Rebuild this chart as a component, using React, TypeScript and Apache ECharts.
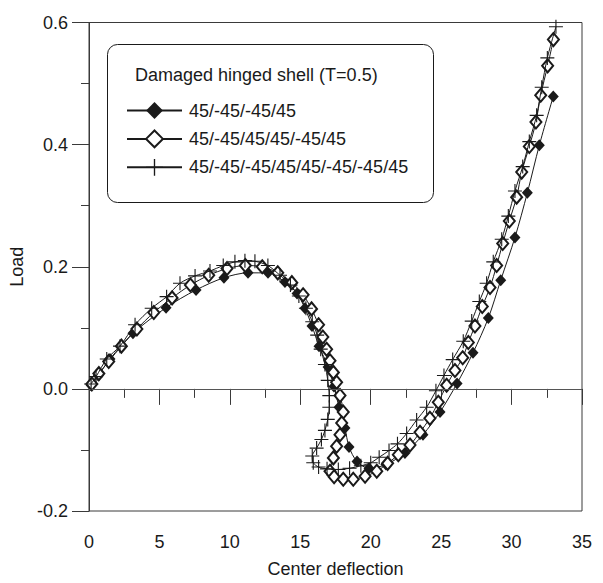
import React, { useEffect, useRef } from "react";
import * as echarts from "echarts";

const seriesNames = [
  "45/-45/-45/45",
  "45/-45/45/45/-45/45",
  "45/-45/-45/45/45/-45/-45/45",
];
const legendTitle = "Damaged hinged shell (T=0.5)";
const xAxisName = "Center deflection";
const yAxisName = "Load";

const xRange = [0, 35];
const xStep = 5;
const yRange = [-0.2, 0.6];
const yStep = 0.2;

const filledDiamond: [number, number][] = [
  [0.15, 0.006], [0.66, 0.022], [1.49, 0.049], [3.12, 0.091], [5.47, 0.133],
  [7.6, 0.162], [9.58, 0.182], [11.29, 0.19], [12.71, 0.19], [13.91, 0.175],
  [14.77, 0.156], [15.33, 0.132], [15.83, 0.103], [16.33, 0.07], [16.97, 0.036],
  [17.39, 0.004], [17.75, -0.03], [18.17, -0.064], [18.46, -0.095], [19.03, -0.119],
  [19.88, -0.13], [21.08, -0.124], [22.43, -0.105], [23.71, -0.075], [24.92, -0.038],
  [26.13, 0.009], [27.26, 0.059], [28.35, 0.116], [29.23, 0.178], [30.24, 0.248],
  [31.12, 0.321], [31.97, 0.399], [32.96, 0.479],
];

const openDiamond: [number, number][] = [
  [0.2, 0.008], [0.7, 0.025], [1.4, 0.045], [2.3, 0.07], [3.4, 0.098],
  [4.6, 0.125], [5.9, 0.149], [7.2, 0.17], [8.5, 0.186], [9.8, 0.197],
  [11.1, 0.202], [12.3, 0.2], [13.4, 0.19], [14.4, 0.174], [15.2, 0.154],
  [15.8, 0.131], [16.3, 0.105], [16.6, 0.085], [16.87, 0.065], [17.11, 0.046],
  [17.35, 0.027], [17.58, 0.011], [17.82, -0.011], [18.05, -0.038], [17.94, -0.056],
  [17.82, -0.075], [17.58, -0.094], [17.35, -0.113], [17.11, -0.135], [17.4, -0.144],
  [18.05, -0.148], [18.76, -0.148], [19.6, -0.143], [20.43, -0.135], [21.2, -0.122],
  [21.96, -0.108], [22.79, -0.092], [23.5, -0.071], [24.2, -0.048], [24.8, -0.022],
  [25.39, 0.006], [25.98, 0.03], [26.53, 0.051], [26.93, 0.076], [27.4, 0.103],
  [27.92, 0.135], [28.47, 0.166], [28.94, 0.202], [29.37, 0.238], [29.84, 0.275],
  [30.36, 0.314], [30.72, 0.355], [31.26, 0.397], [31.73, 0.437], [32.07, 0.481],
  [32.56, 0.529], [32.97, 0.572],
];

const plusMarker: [number, number][] = [
  [0.15, 0.008], [0.5, 0.02], [1.26, 0.049], [2.2, 0.07], [3.27, 0.105],
  [4.45, 0.132], [5.51, 0.151], [6.46, 0.173], [7.53, 0.185], [8.59, 0.193],
  [9.53, 0.202], [10.36, 0.208], [11.07, 0.21], [11.78, 0.209], [12.7, 0.202],
  [13.56, 0.186], [14.3, 0.17], [14.9, 0.152], [15.4, 0.132], [15.85, 0.11],
  [16.2, 0.088], [16.45, 0.065], [16.75, 0.04], [16.95, 0.014], [17.06, -0.011],
  [17.06, -0.03], [16.95, -0.05], [16.75, -0.068], [16.5, -0.083], [16.16, -0.097],
  [15.85, -0.11], [15.92, -0.121], [16.3, -0.128], [16.9, -0.131], [17.7, -0.132],
  [18.5, -0.13], [19.3, -0.126], [20.0, -0.121], [20.6, -0.112], [21.3, -0.101],
  [21.9, -0.09], [22.55, -0.073], [23.26, -0.051], [23.97, -0.03], [24.63, -0.003],
  [25.2, 0.022], [25.82, 0.048], [26.57, 0.078], [27.17, 0.111], [27.71, 0.143],
  [28.23, 0.173], [28.7, 0.208], [29.3, 0.245], [29.77, 0.283], [30.24, 0.324],
  [30.79, 0.364], [31.26, 0.405], [31.78, 0.448], [32.14, 0.494], [32.54, 0.542],
  [33.15, 0.593],
];

const FONT = "'Liberation Sans', Arial, Helvetica, sans-serif";
const INK = "#1a1a1a";
const AXIS = "#3a3a3a";
const PLUS_PATH =
  "path://M46,0L54,0L54,46L100,46L100,54L54,54L54,100L46,100L46,54L0,54L0,46L46,46Z";

export default function App() {
  const ref = useRef<HTMLDivElement>(null);

  useEffect(() => {
    if (!ref.current) return;
    const chart = echarts.init(ref.current, undefined, { renderer: "svg" });

    const lineStyle = { color: INK, width: 1 };
    const option: any = {
      animation: false,
      backgroundColor: "#fff",
      textStyle: { fontFamily: FONT },
      grid: {
        left: 89,
        right: 21,
        top: 22.5,
        bottom: 66,
        show: true,
        borderColor: AXIS,
        borderWidth: 1,
        backgroundColor: "transparent",
      },
      graphic: [
        {
          type: "rect",
          left: 107,
          top: 44,
          z: 0,
          shape: { width: 326, height: 158, r: 10 },
          style: { fill: "#fff", stroke: INK, lineWidth: 1 },
        },
        {
          type: "text",
          left: 135,
          top: 66,
          z: 5,
          style: {
            text: legendTitle,
            fontSize: 18,
            fontFamily: FONT,
            fill: INK,
          },
        },
      ],
      legend: {
        orient: "vertical",
        left: 126,
        top: 101.5,
        padding: 0,
        itemWidth: 55,
        itemHeight: 21,
        itemGap: 10,
        selectedMode: false,
        textStyle: { fontSize: 18, color: INK, fontFamily: FONT, padding: [0, 0, 0, 2] },
        data: seriesNames,
      },
      xAxis: {
        type: "value",
        min: xRange[0],
        max: xRange[1],
        interval: xStep,
        name: xAxisName,
        nameLocation: "middle",
        nameGap: 49,
        nameTextStyle: { fontSize: 18, color: INK, fontFamily: FONT },
        axisLine: { show: true, lineStyle: { color: AXIS, width: 1 } },
        axisTick: { show: true, inside: false, length: 16, lineStyle: { color: AXIS } },
        minorTick: { show: true, splitNumber: 2, length: 9, lineStyle: { color: AXIS } },
        axisLabel: { fontSize: 18, color: INK, margin: 22, fontFamily: FONT },
        splitLine: { show: false },
        minorSplitLine: { show: false },
      },
      yAxis: {
        type: "value",
        min: yRange[0],
        max: yRange[1],
        interval: yStep,
        name: yAxisName,
        nameLocation: "middle",
        nameGap: 55,
        nameTextStyle: { fontSize: 18, color: INK, fontFamily: FONT },
        axisLine: { show: true, lineStyle: { color: AXIS, width: 1 } },
        axisTick: { show: true, inside: false, length: 17, lineStyle: { color: AXIS } },
        minorTick: { show: true, splitNumber: 2, length: 8, lineStyle: { color: AXIS } },
        axisLabel: {
          fontSize: 18,
          color: INK,
          margin: 21,
          fontFamily: FONT,
          formatter: (v: number) => v.toFixed(1),
        },
        splitLine: { show: false },
        minorSplitLine: { show: false },
      },
      series: [
        {
          name: seriesNames[0],
          type: "line",
          data: filledDiamond,
          symbol: "diamond",
          symbolSize: [11, 12],
          smooth: 0.3,
          lineStyle,
          itemStyle: { color: INK },
          z: 3,
          markLine: {
            silent: true,
            symbol: "none",
            label: { show: false },
            lineStyle: { color: "#555", width: 1, type: "solid" },
            data: [{ yAxis: 0 }],
          },
        },
        {
          name: seriesNames[1],
          type: "line",
          data: openDiamond,
          symbol: "emptyDiamond",
          symbolSize: [11, 13],
          smooth: 0.3,
          lineStyle,
          itemStyle: { color: INK, borderWidth: 1 },
          z: 4,
        },
        {
          name: seriesNames[2],
          type: "line",
          data: plusMarker,
          symbol: PLUS_PATH,
          symbolSize: 14,
          smooth: 0.3,
          lineStyle,
          itemStyle: { color: INK },
          z: 5,
        },
      ],
    };

    chart.setOption(option);
    return () => chart.dispose();
  }, []);

  return (
    <div
      ref={ref}
      style={{ position: "fixed", left: 0, top: 0, width: 603, height: 583 }}
    />
  );
}
